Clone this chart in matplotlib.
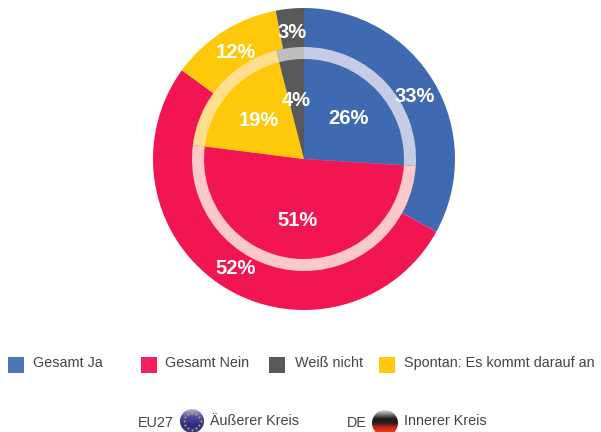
import numpy as np
from matplotlib import pyplot as plt
from matplotlib.patches import Circle, Rectangle
from matplotlib.colors import LinearSegmentedColormap

# data
categories = ['Gesamt Ja', 'Gesamt Nein', 'Weiß nicht', 'Spontan: Es kommt darauf an']
outer_values = [33, 52, 12, 3]   # EU27
inner_values = [26, 51, 19, 4]   # DE
outer_labels = ['33%', '52%', '12%', '3%']
inner_labels = ['26%', '51%', '19%', '4%']
pie_colors = ['#3f6ab2', '#f11551', '#ffc80a', '#58595b']
ring_colors = ['#c6cce6', '#fdc8c8', '#ffdf8e', '#bcbec0']
legend_colors = ['#4f76b9', '#f1215f', '#58595b', '#ffc80a']
text_color = '#444444'

W, H = 601, 432
cx, cy = 304, H - 159

plt.rcParams['font.family'] = ['Liberation Sans', 'DejaVu Sans']

fig = plt.figure(figsize=(W / 100, H / 100), dpi=100)
ax = fig.add_axes([0, 0, 1, 1])

# outer pie, then the white-ish ring, then inner pie
ax.pie(outer_values, colors=pie_colors, radius=151, center=(cx, cy), startangle=90, counterclock=False)
ax.pie(inner_values, colors=ring_colors, radius=112, center=(cx, cy), startangle=90, counterclock=False)
ax.pie(inner_values, colors=pie_colors, radius=100, center=(cx, cy), startangle=90, counterclock=False)

# percent labels, pixel positions from the picture
label_pos = [(415, 96), (236, 268), (236, 52), (292, 32)]
for (px, py), t in zip(label_pos, outer_labels):
    ax.text(px, H - py, t, color='white', fontsize=14.5, fontweight='bold', ha='center', va='center')
label_pos = [(348, 119), (298, 221), (259, 120), (296, 100)]
for (px, py), t in zip(label_pos, inner_labels):
    ax.text(px, H - py, t, color='white', fontsize=14.5, fontweight='bold', ha='center', va='center')

# legend row
sq_x = [8, 141, 269, 379]
txt_x = [33, 165, 295, 404]
for x0, x1, c, t in zip(sq_x, txt_x, legend_colors, categories):
    ax.add_patch(Rectangle((x0, H - 373), 16, 16, color=c, lw=0))
    ax.text(x1, H - 363, t, color=text_color, fontsize=10.4, ha='left', va='center')

ax.text(138, H - 423, 'EU27', color=text_color, fontsize=10.4, ha='left', va='center')
ax.text(210, H - 421, 'Äußerer Kreis', color=text_color, fontsize=10.4, ha='left', va='center')
ax.text(347, H - 423, 'DE', color=text_color, fontsize=10.4, ha='left', va='center')
ax.text(404, H - 421, 'Innerer Kreis', color=text_color, fontsize=10.4, ha='left', va='center')

# EU globe
ex, ey, er = 192, H - 421, 12
grad = np.linspace(0, 1, 40).reshape(-1, 1)
eu_cmap = LinearSegmentedColormap.from_list('eu', ['#b4b4dc', '#4a4aa0', '#2e2a84', '#3a3690'])
im = ax.imshow(grad, extent=(ex - er, ex + er, ey - er, ey + er), cmap=eu_cmap, zorder=3, aspect='auto', origin='upper')
im.set_clip_path(Circle((ex, ey), er, transform=ax.transData))
star_angles = np.arange(12) * np.pi / 6
ax.scatter(ex + 8.5 * np.cos(star_angles), ey + 8.5 * np.sin(star_angles), s=2, color='#d8b030', lw=0, zorder=4)

# DE globe
dx, dy, dr = 385, H - 423, 13
de_cmap = LinearSegmentedColormap.from_list('de', ['#dddddd', '#777777', '#1a1a1a', '#222222', '#d81e1e', '#e03a14', '#f0a010'])
im2 = ax.imshow(np.linspace(0, 1, 60).reshape(-1, 1), extent=(dx - dr, dx + dr, dy - dr, dy + dr), cmap=de_cmap,
                zorder=3, aspect='auto', origin='upper')
im2.set_clip_path(Circle((dx, dy), dr, transform=ax.transData))

ax.set_xlim(0, W)
ax.set_ylim(0, H)
ax.set_aspect('auto')
ax.axis('off')

fig.savefig('out.png', dpi=100)
